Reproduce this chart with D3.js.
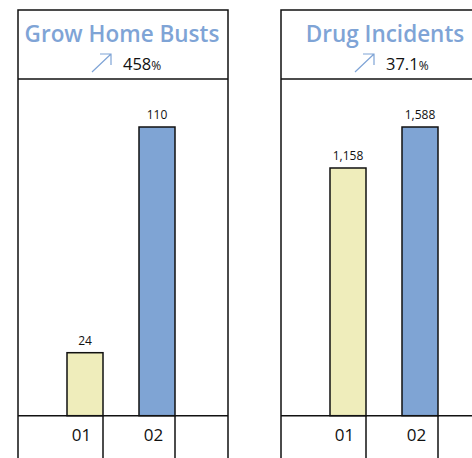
<!DOCTYPE html>
<html><head><meta charset="utf-8">
<script src="https://cdn.jsdelivr.net/npm/d3@7"></script>
<style>html,body{margin:0;padding:0;background:#fff;overflow:hidden}</style>
</head><body>
<svg id="c" width="472" height="458"></svg>
<script>
const titles = ["Grow Home Busts", "Drug Incidents"];
const changes = ["458", "37.1"];
const categories = ["01", "02"];
const valuesGrow = [24, 110];
const valuesDrug = [1158, 1588];
const domainMin = [0, -1440];
const barColors = ["#efedbb", "#7fa4d4"];

const panels = [
  {title: titles[0], change: changes[0], values: valuesGrow, dmin: domainMin[0], left: 18},
  {title: titles[1], change: changes[1], values: valuesDrug, dmin: domainMin[1], left: 281}
];
const svg = d3.select("#c");
const W = 210, frameTop = 10, headerY = 79, baseY = 415.7, plotTop = 127;
const fmt = d3.format(",");

panels.forEach(p => {
  const g = svg.append("g");
  const x = d3.scaleBand().domain(categories)
    .range([p.left + 31, p.left + 31 + 144]).paddingInner(0.5).paddingOuter(0.25);
  const y = d3.scaleLinear().domain([p.dmin, d3.max(p.values)]).range([baseY, plotTop]);

  // outer frame
  g.append("path").attr("d", `M${p.left},470 V${frameTop} H${p.left + W} V470`)
    .attr("fill", "none").attr("stroke", "#111").attr("stroke-width", 1.5);
  g.append("line").attr("x1", p.left).attr("x2", p.left + W).attr("y1", headerY).attr("y2", headerY)
    .attr("stroke", "#111").attr("stroke-width", 1.5);

  // title
  g.append("text").attr("x", p.left + W / 2 - 1).attr("y", 41.5).attr("text-anchor", "middle")
    .attr("font-family", "Open Sans").attr("font-weight", 600).attr("font-size", 22.5)
    .attr("fill", "#7fa4d6").text(p.title);

  // change row
  const cx = p.left + W / 2;
  const t = g.append("text").attr("x", cx).attr("y", 70).attr("font-family", "Open Sans")
    .attr("fill", "#111");
  t.append("tspan").attr("font-size", 16.5).text(p.change);
  t.append("tspan").attr("font-size", 12).text("%");
  const ax = cx - 31;
  g.append("path")
    .attr("d", `M${ax},72 L${ax + 19},54 M${ax + 8},54 H${ax + 19} V65`)
    .attr("fill", "none").attr("stroke", "#7fa4d6").attr("stroke-width", 1.2);

  // bars
  g.selectAll("rect.bar").data(p.values).join("rect").attr("class", "bar")
    .attr("x", (d, i) => x(categories[i]))
    .attr("y", d => y(d))
    .attr("width", x.bandwidth())
    .attr("height", d => baseY - y(d))
    .attr("fill", (d, i) => barColors[i])
    .attr("stroke", "#111").attr("stroke-width", 1.5);

  g.selectAll("text.val").data(p.values).join("text").attr("class", "val")
    .attr("x", (d, i) => x(categories[i]) + x.bandwidth() / 2)
    .attr("y", d => y(d) - 8)
    .attr("text-anchor", "middle").attr("font-family", "Open Sans").attr("font-size", 12)
    .attr("fill", "#111").text(d => fmt(d));

  // baseline + category cells
  g.append("line").attr("x1", p.left).attr("x2", p.left + W).attr("y1", baseY).attr("y2", baseY)
    .attr("stroke", "#111").attr("stroke-width", 1.5);
  g.selectAll("line.cell").data(categories).join("line").attr("class", "cell")
    .attr("x1", d => x(d) + x.bandwidth()).attr("x2", d => x(d) + x.bandwidth())
    .attr("y1", baseY).attr("y2", 470).attr("stroke", "#111").attr("stroke-width", 1.5);
  g.selectAll("text.cat").data(categories).join("text").attr("class", "cat")
    .attr("x", d => x(d) + x.bandwidth() / 2 - 3.5)
    .attr("y", 441).attr("text-anchor", "middle")
    .attr("font-family", "Open Sans").attr("font-size", 17).attr("fill", "#111").text(d => d);
});
</script>
</body></html>
